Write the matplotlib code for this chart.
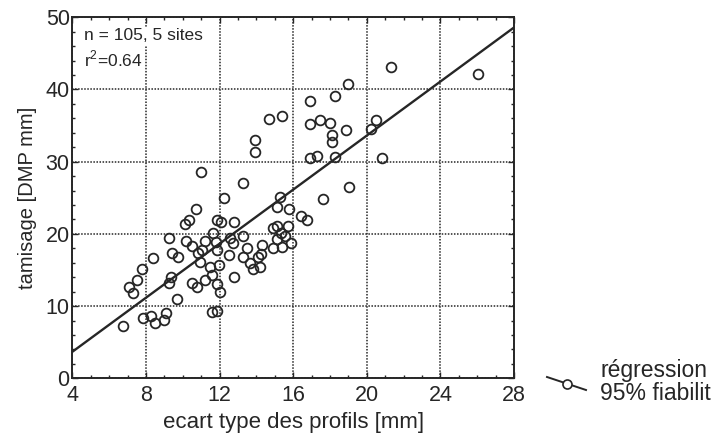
import numpy as np
import matplotlib
matplotlib.use('Agg')
import matplotlib.pyplot as plt
from matplotlib.ticker import MultipleLocator

plt.rcParams['font.family'] = ['Liberation Sans', 'DejaVu Sans']

# ecart type des profils [mm]
ecart = [26.04, 21.31, 18.97, 18.27, 16.91, 15.39, 14.68, 13.92, 13.92, 16.91,
         17.45, 17.99, 18.09, 18.09, 18.85, 16.91, 17.30, 18.27, 20.21, 20.49,
         20.84, 19.04, 17.60, 15.30, 10.98, 13.25, 12.21, 15.13, 15.75, 16.40,
         16.76, 10.71, 10.35, 10.11, 11.84, 12.05, 12.78, 11.66, 13.25, 14.91,
         15.13, 15.70, 15.32, 15.55, 15.10, 15.86, 15.37, 14.91, 14.32, 13.46,
         12.74, 12.56, 13.25, 14.10, 14.23, 9.27, 10.18, 10.48, 11.23, 11.82,
         9.42, 9.76, 8.39, 10.82, 11.04, 11.84, 12.49, 10.95, 11.50, 11.99,
         7.76, 7.49, 7.09, 7.27, 9.34, 9.22, 10.52, 10.75, 11.23, 11.58,
         11.84, 12.03, 12.79, 9.70, 11.57, 11.84, 7.85, 8.26, 8.47, 9.08,
         9.00, 6.73, 13.65, 13.83, 14.19]

# tamisage [DMP mm]
tamisage = [42.15, 43.12, 40.76, 39.10, 38.41, 36.33, 35.91, 33.01, 31.34, 35.22,
            35.71, 35.40, 33.70, 32.73, 34.39, 30.51, 30.79, 30.69, 34.53, 35.71,
            30.47, 26.45, 24.83, 25.15, 28.64, 27.01, 24.97, 23.77, 23.41, 22.48,
            21.88, 23.42, 21.93, 21.33, 21.93, 21.65, 21.65, 20.08, 19.75, 20.75,
            21.09, 21.09, 20.17, 19.71, 19.25, 18.78, 18.14, 18.09, 18.50, 18.09,
            18.78, 19.43, 16.73, 16.84, 17.17, 19.43, 19.02, 18.39, 19.02, 18.81,
            17.42, 16.80, 16.66, 17.35, 17.70, 17.77, 17.01, 16.04, 15.46, 15.69,
            15.18, 13.66, 12.58, 11.86, 14.03, 13.20, 13.24, 12.69, 13.55, 14.24,
            13.03, 11.99, 14.03, 10.96, 9.14, 9.32, 8.31, 8.66, 7.66, 9.00,
            8.13, 7.29, 16.01, 15.14, 15.46]

# droite de regression
pente = 1.871
ordonnee = -3.80
x_reg = [4, 28]

ink = '#262626'

fig = plt.figure(figsize=(7.12, 4.41), dpi=100)
ax = fig.add_axes([0.1018, 0.1422, 0.6201, 0.8186])

ax.plot(ecart, tamisage, 'o', mfc='none', mec=ink, mew=1.3, ms=7, zorder=3)
ax.plot(x_reg, [pente * v + ordonnee for v in x_reg], '-', color=ink, lw=1.7, zorder=4)

ax.set_xlim(4, 28)
ax.set_ylim(0, 50)
ax.xaxis.set_major_locator(MultipleLocator(4))
ax.xaxis.set_minor_locator(MultipleLocator(1))
ax.yaxis.set_major_locator(MultipleLocator(10))
ax.yaxis.set_minor_locator(MultipleLocator(2))
ax.tick_params(which='both', direction='in', top=True, right=True, color=ink,
               labelsize=15.5, labelcolor=ink)
ax.tick_params(axis='x', pad=5)
ax.tick_params(axis='y', pad=2)
ax.tick_params(which='major', length=4, width=1)
ax.tick_params(which='minor', length=2.5, width=1)
ax.grid(True, which='major', linestyle=(0, (1, 1)), color=ink, lw=1.1)
for s in ax.spines.values():
    s.set_color(ink)
    s.set_linewidth(1.4)

ax.set_xlabel('ecart type des profils [mm]', fontsize=16, color=ink, labelpad=4)
ax.set_ylabel('tamisage [DMP mm]', fontsize=14.5, color=ink, labelpad=6)

ax.text(0.025, 0.97, 'n = 105, 5 sites', transform=ax.transAxes, fontsize=12.5,
        color=ink, va='top', ha='left',
        bbox=dict(facecolor='white', edgecolor='none', pad=1))
ax.text(0.025, 0.912, r'r$^\mathregular{2}$=0.64', transform=ax.transAxes, fontsize=12.5,
        color=ink, va='top', ha='left',
        bbox=dict(facecolor='white', edgecolor='none', pad=1))

# legende hors du cadre
fig.add_artist(plt.Line2D([547 / 712, 586 / 712], [1 - 377 / 441, 1 - 390 / 441],
                          color=ink, lw=1.4))
fig.add_artist(plt.Line2D([567 / 712], [1 - 383.5 / 441], marker='o', mfc='white',
                          mec=ink, mew=1.2, ms=6.5))
fig.text(600 / 712, 1 - 370 / 441, 'régression', fontsize=16.5, color=ink, va='center')
fig.text(600 / 712, 1 - 394 / 441, '95% fiabilit', fontsize=16.5, color=ink, va='center')

fig.savefig('out.png', dpi=100)
